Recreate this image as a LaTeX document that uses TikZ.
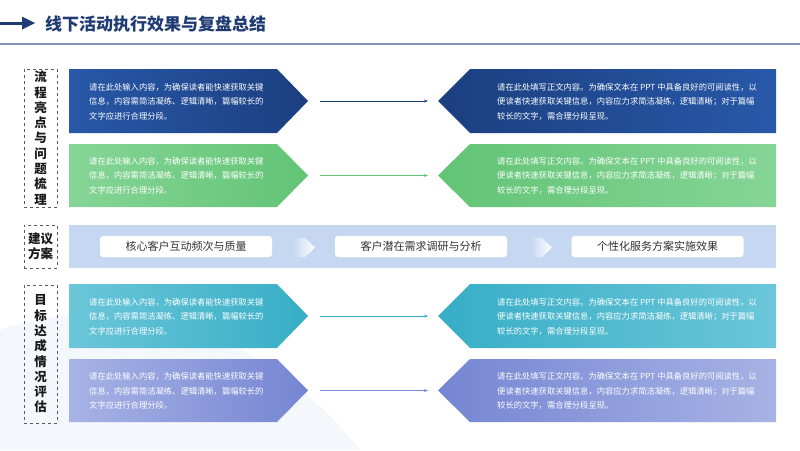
\documentclass[tikz,border=0pt]{standalone}
\usepackage{fontspec}
\newfontfamily\cjk{Noto Sans CJK SC}
\usetikzlibrary{arrows.meta}
\definecolor{navy}{HTML}{1F3B73}
\definecolor{rulec}{HTML}{8093B8}
\definecolor{bAl}{HTML}{2858A8}\definecolor{bAd}{HTML}{1B3F80}
\definecolor{gAl}{HTML}{86D597}\definecolor{gAd}{HTML}{62C475}
\definecolor{tAl}{HTML}{6CC6D9}\definecolor{tAd}{HTML}{36AEC6}
\definecolor{pAl}{HTML}{A7B3E5}\definecolor{pAd}{HTML}{7585D2}
\definecolor{band}{HTML}{C6D7F1}
\definecolor{txtg}{HTML}{333333}
\definecolor{swoosh}{HTML}{F4F7FC}
\tikzset{
  bodytxt/.style={font=\cjk\fontsize{8.3}{14.5}\selectfont, text=white, align=left, anchor=west, inner sep=0pt},
  sidelabel/.style={draw=gray!70!black, dashed, line width=0.7pt, minimum width=33pt, font=\cjk\bfseries\fontsize{12.5}{15.3}\selectfont, align=center, text=black!90, inner sep=0pt},
  pill/.style={fill=white, rounded corners=3pt, minimum width=172pt, minimum height=21pt, font=\cjk\fontsize{11}{13}\selectfont, text=txtg, inner sep=0pt},
  conn/.style={line width=0.9pt, -{Stealth[length=4pt,width=3pt]}}
}
\newcommand{\leftarr}[4]{% top bottom light dark
  \shade[left color=#3, right color=#4] (69,#1) -- (277,#1) -- (308,{(#1+#2)/2}) -- (277,#2) -- (69,#2) -- cycle;}
\newcommand{\rightarr}[4]{%
  \shade[left color=#4, right color=#3] (438,{(#1+#2)/2}) -- (470,#1) -- (776,#1) -- (776,#2) -- (470,#2) -- cycle;}
\newcommand{\ltext}{请在此处输入内容，为确保读者能快速获取关键\\信息，内容需简洁凝练、逻辑清晰，篇幅较长的\\文字应进行合理分段。}
\newcommand{\rtext}{请在此处填写正文内容。为确保文本在 PPT 中具备良好的可阅读性，以\\便读者快速获取关键信息，内容应力求简洁凝练，逻辑清晰；对于篇幅\\较长的文字，需合理分段呈现。}
\begin{document}
\begin{tikzpicture}[x=1pt,y=-1pt]
\useasboundingbox (0,0) rectangle (800,450);
\fill[white] (0,0) rectangle (800,450);
% faint background swoosh
\fill[swoosh] (0,330) .. controls (150,280) and (280,350) .. (360,450) -- (0,450) -- cycle;
% title
\draw[navy, line width=3pt] (0,23) -- (24,23);
\fill[navy] (22,16.5) -- (35,23) -- (22,29.5) -- cycle;
\node[anchor=west, font=\cjk\bfseries\fontsize{17}{19}\selectfont, text=navy, inner sep=0pt] (title) at (45,24) {线下活动执行效果与复盘总结};
\draw[rulec, line width=1.2pt] (0,44) -- (800,44);
% side labels
\node[sidelabel, minimum height=138pt] (s1) at (40.5,138) {流\\程\\亮\\点\\与\\问\\题\\梳\\理};
\node[sidelabel, minimum height=43pt] (s2) at (40.5,246.5) {建议\\方案};
\node[sidelabel, minimum height=138pt] (s3) at (40.5,354) {目\\标\\达\\成\\情\\况\\评\\估};
% rows
\leftarr{69}{133}{bAl}{bAd}
\rightarr{69}{133}{bAl}{bAd}
\leftarr{144}{207}{gAl}{gAd}
\rightarr{144}{207}{gAl}{gAd}
\leftarr{284}{348}{tAl}{tAd}
\rightarr{284}{348}{tAl}{tAd}
\leftarr{359}{422}{pAl}{pAd}
\rightarr{359}{422}{pAl}{pAd}
\node[bodytxt] (L1) at (89,101.5) {\ltext};
\node[bodytxt] (R1) at (497,101.5) {\rtext};
\node[bodytxt] (L2) at (89,175.5) {\ltext};
\node[bodytxt] (R2) at (497,175.5) {\rtext};
\node[bodytxt] (L3) at (89,316.5) {\ltext};
\node[bodytxt] (R3) at (497,316.5) {\rtext};
\node[bodytxt] (L4) at (89,391) {\ltext};
\node[bodytxt] (R4) at (497,391) {\rtext};
% connectors
\coordinate (c1a) at (320,101); \coordinate (c1b) at (428,101);
\coordinate (c2a) at (320,175.5); \coordinate (c2b) at (428,175.5);
\coordinate (c3a) at (320,316); \coordinate (c3b) at (428,316);
\coordinate (c4a) at (320,390.5); \coordinate (c4b) at (428,390.5);
\draw[conn, bAd] (c1a) -- (c1b);
\draw[conn, gAd] (c2a) -- (c2b);
\draw[conn, tAd] (c3a) -- (c3b);
\draw[conn, pAd] (c4a) -- (c4b);
% middle band
\fill[band] (69,225) rectangle (776,268);
\node[pill] (p1) at (186,246.5) {核心客户互动频次与质量};
\node[pill] (p2) at (421,246.5) {客户潜在需求调研与分析};
\node[pill] (p3) at (657.5,246.5) {个性化服务方案实施效果};
\shade[left color=band, right color=white] (293,238) -- (305,238) -- (315,247.5) -- (305,257) -- (293,257) -- cycle;
\shade[left color=band, right color=white] (530,238) -- (542,238) -- (552,247.5) -- (542,257) -- (530,257) -- cycle;
\end{tikzpicture}
\end{document}
